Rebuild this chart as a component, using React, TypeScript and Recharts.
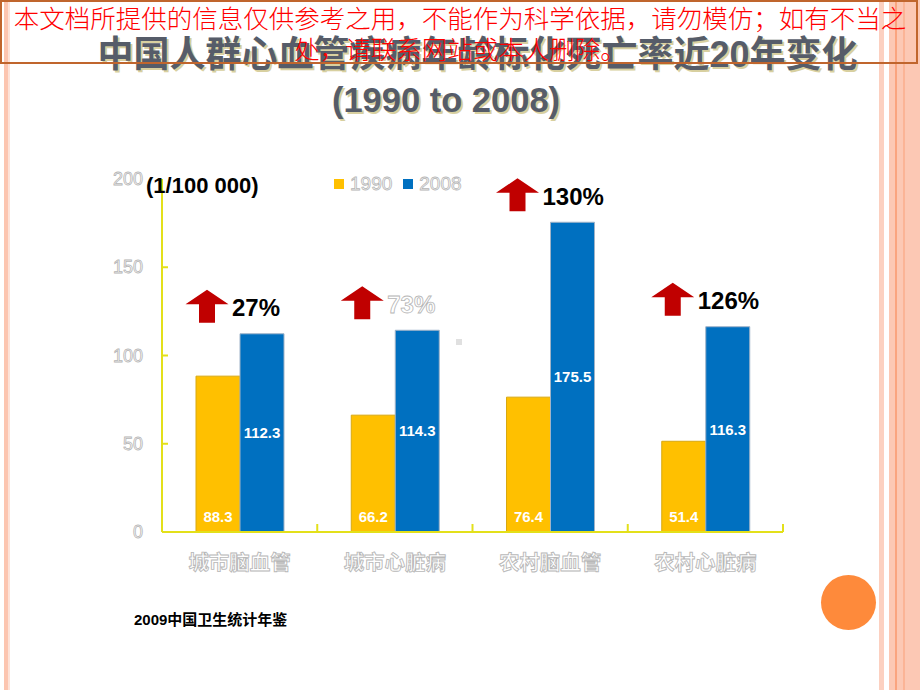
import { Bar, BarChart, LabelList, Legend, XAxis, YAxis } from "recharts";

const categories = ["城市脑血管", "城市心脏病", "农村脑血管", "农村心脏病"];
const rate1990 = [88.3, 66.2, 76.4, 51.4];
const rate2008 = [112.3, 114.3, 175.5, 116.3];
const growthLabels = ["27%", "73%", "130%", "126%"];
const yTicks = [0, 50, 100, 150, 200];
const seriesNames = ["1990", "2008"];

const hollowGrowth = new Set(["73%"]);

const YELLOW = "#ffc000";
const BLUE = "#0070c0";
const AXIS = "#e3e01a";
const FONT = "'Liberation Sans', Arial, 'Noto Sans CJK SC', sans-serif";

const data = categories.map((name, i) => ({
  name,
  y1990: rate1990[i],
  y2008: rate2008[i],
  growth: growthLabels[i],
}));

const YTick = ({ x, y, payload }: any) => (
  <g>
    {payload.value > 0 && payload.value < 200 ? (
      <line x1={x} x2={x + 6} y1={y} y2={y} stroke={AXIS} strokeWidth={2} />
    ) : null}
    <text x={x - 19} y={y + 6} textAnchor="end" fontSize={18} fontFamily={FONT} fill="#fff" stroke="#b5b5b5" strokeWidth={0.8}>
      {payload.value}
    </text>
  </g>
);

const XTick = ({ x, y, payload }: any) => (
  <g>
    <line x1={x + payload.offset} x2={x + payload.offset} y1={y - 8} y2={y} stroke={AXIS} strokeWidth={2} />
    <text x={x} y={y + 38} textAnchor="middle" fontSize={20.5} fontWeight="bold" fontFamily={FONT} fill="#fff" stroke="#b8b8b8" strokeWidth={0.9}>
      {payload.value}
    </text>
  </g>
);

const BottomLabel = ({ x, y, width, height, value }: any) => (
  <text x={x + width / 2} y={y + height - 10} textAnchor="middle" fontSize={15} fontWeight="bold" fontFamily={FONT} fill="#fff">
    {value}
  </text>
);

const GrowthMark = ({ x, y, value }: any) => {
  const ax = x - 33;
  const b = y - 11;
  const pts = [
    [ax, b - 33],
    [ax + 21.5, b - 18.5],
    [ax + 8, b - 18.5],
    [ax + 8, b],
    [ax - 8, b],
    [ax - 8, b - 18.5],
    [ax - 21.5, b - 18.5],
  ]
    .map((p) => p.join(","))
    .join(" ");
  const hollow = hollowGrowth.has(value);
  return (
    <g>
      <polygon points={pts} fill="#c00000" />
      <text
        x={x - 8}
        y={y - 26 + 8.5}
        fontSize={24}
        fontWeight="bold"
        fontFamily={FONT}
        fill={hollow ? "#fff" : "#000"}
        stroke={hollow ? "#b5b5b5" : "none"}
        strokeWidth={0.8}
      >
        {value}
      </text>
    </g>
  );
};

const LegendContent = () => (
  <div style={{ display: "flex", alignItems: "center", fontFamily: FONT, fontSize: 19 }}>
    {seriesNames.map((s, i) => (
      <div key={s} style={{ display: "flex", alignItems: "center", marginRight: 11 }}>
        <span style={{ width: 10, height: 10, background: i === 0 ? YELLOW : BLUE, marginRight: 6 }} />
        <span style={{ color: "#fff", WebkitTextStroke: "0.8px #b5b5b5" }}>{s}</span>
      </div>
    ))}
  </div>
);

const stripe = (left: number, width: number, color: string) => (
  <div style={{ position: "absolute", left, top: 0, width, height: 690, background: color }} />
);

export default function App() {
  return (
    <div style={{ position: "fixed", left: 0, top: 0, width: 920, height: 690, background: "#fff", overflow: "hidden", fontFamily: FONT }}>
      {stripe(4, 4, "#fcc5b0")}
      {stripe(8, 2, "#fde2d8")}
      {stripe(879, 5, "#fcd0c0")}
      {stripe(889, 31, "#fcc8b4")}
      {stripe(895, 2, "#faa47f")}
      {stripe(903, 2, "#fbb496")}

      <div style={{ position: "absolute", left: 0, top: 0 }}>
        <BarChart width={920} height={690} data={data} margin={{ top: 179, right: 137, bottom: 108, left: 122 }} barGap={0}>
          <XAxis dataKey="name" height={50} tickLine={false} axisLine={{ stroke: AXIS, strokeWidth: 2 }} tickSize={0} tickMargin={0} tick={<XTick />} />
          <YAxis width={40} domain={[0, 200]} ticks={yTicks} tickLine={false} axisLine={{ stroke: AXIS, strokeWidth: 2 }} tickSize={0} tickMargin={0} tick={<YTick />} />
          <Legend layout="horizontal" verticalAlign="middle" align="center" content={<LegendContent />} wrapperStyle={{ position: "absolute", top: 173, left: 334, width: 200 }} />
          <Bar dataKey="y1990" name="1990" fill={YELLOW} stroke="#d8a810" strokeWidth={1} barSize={44} isAnimationActive={false}>
            <LabelList dataKey="y1990" content={<BottomLabel />} />
          </Bar>
          <Bar dataKey="y2008" name="2008" fill={BLUE} stroke="#9fb3c8" strokeWidth={1} barSize={44} isAnimationActive={false}>
            <LabelList dataKey="y2008" position="center" fill="#fff" fontSize={15} fontWeight="bold" fontFamily={FONT} />
            <LabelList dataKey="growth" content={<GrowthMark />} />
          </Bar>
        </BarChart>
      </div>

      <div style={{ position: "absolute", left: 146, top: 172, fontSize: 22, fontWeight: "bold", lineHeight: "28px", color: "#000" }}>
        (1/100 000)
      </div>
      <div style={{ position: "absolute", left: 456, top: 339, width: 6, height: 6, background: "#e0e0e0" }} />
      <div style={{ position: "absolute", left: 134, top: 610, fontSize: 15, fontWeight: "bold", lineHeight: "20px", color: "#000" }}>
        2009中国卫生统计年鉴
      </div>
      <div style={{ position: "absolute", left: 821, top: 575, width: 55, height: 55, borderRadius: "50%", background: "#fe8a3b" }} />

      <div style={{ position: "absolute", left: 0, top: 34, width: 955, textAlign: "center", fontSize: 36, fontWeight: "bold", lineHeight: "42px", color: "#565c69", textShadow: "2px 2px 0 #d8d0a0", whiteSpace: "nowrap" }}>
        中国人群心血管疾病年龄标化死亡率近20年变化
      </div>
      <div style={{ position: "absolute", left: 0, top: 79, width: 892, textAlign: "center", fontSize: 34.5, fontWeight: "bold", lineHeight: "42px", color: "#565c69", textShadow: "2px 2px 0 #d8d0a0", whiteSpace: "nowrap" }}>
        (1990 to 2008)
      </div>

      <div style={{ position: "absolute", left: 0, top: 0, width: 918, height: 64, boxSizing: "border-box", border: "2px solid #c0652d" }} />
      <div style={{ position: "absolute", left: 0, top: 1, width: 920, textAlign: "center", fontFamily: "'Noto Sans CJK SC', sans-serif", fontWeight: 300, fontSize: 25.5, lineHeight: "31px", color: "#ff0000", whiteSpace: "nowrap" }}>
        <div>本文档所提供的信息仅供参考之用，不能作为科学依据，请勿模仿；如有不当之</div>
        <div>处，请联系网站或本人删除。</div>
      </div>
    </div>
  );
}
